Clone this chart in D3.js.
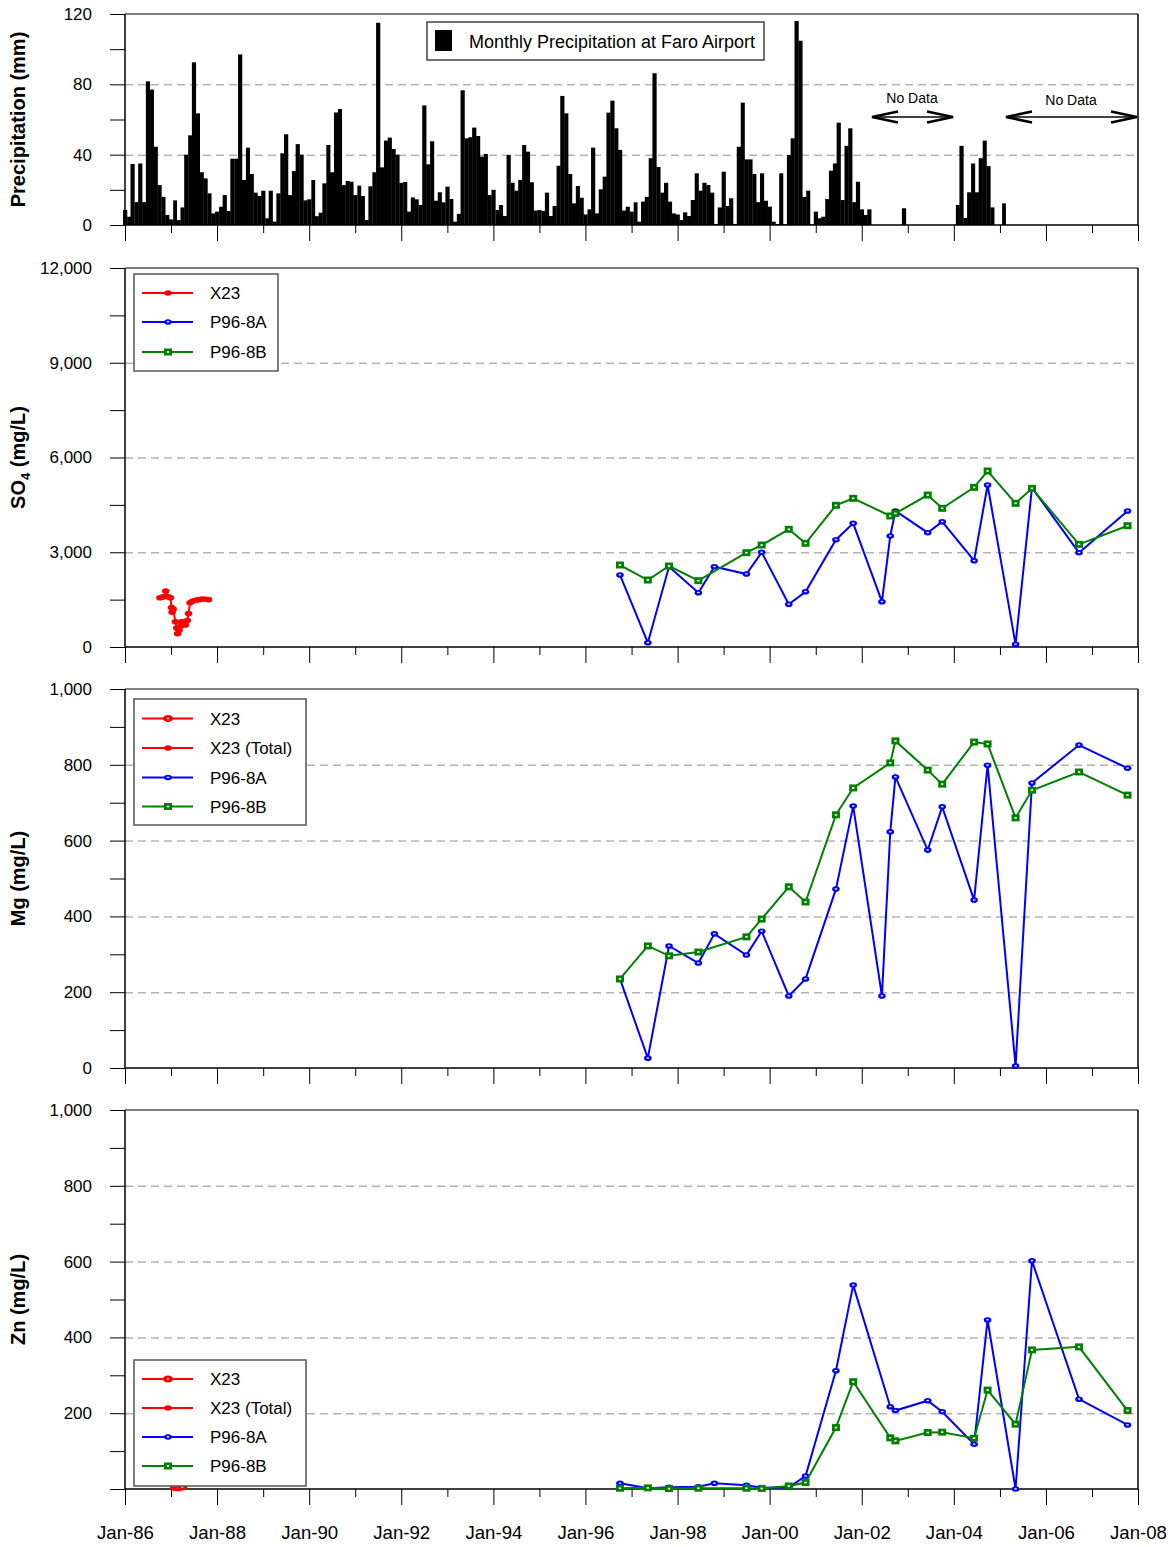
<!DOCTYPE html>
<html><head><meta charset="utf-8">
<script src="https://cdn.jsdelivr.net/npm/d3@7"></script>
<style>body{margin:0;background:#fff} text{font-family:"Liberation Sans",Arial,sans-serif}</style>
</head><body><svg id="c" width="1174" height="1547"></svg>
<script>
// ---------- DATA ----------
const precipStart = "1986-01-01";
const precipMonthly = [
 8.5,4.7,34.7,13,35,13,81.7,77,44.5,22.7,16,5.7,
 3.2,14,2.8,10,40,51,92.5,63.5,30,26.5,18,6.6,
 7.6,10.4,17,8,37.7,37.7,97,25.6,44,29,18.4,16.5,
 19.5,3.8,19.5,1.9,18,40.8,51.6,17,30.7,46,40,14,
 14.6,25.6,5,7,23.7,45.5,30,64,66,22.7,25,24.6,
 17,22.4,16.5,2.8,22,30,115,32.8,48,49.7,43.2,40,
 24,24.5,7.6,15.7,14.6,11.4,68,34.5,47.6,13.8,18.6,12.9,
 21.8,14.8,1.9,6.3,76.6,49.3,49.9,55.4,50.6,38.9,40.4,17,
 20,8.5,11.4,5.1,39.8,24,19.5,25.6,45.5,41.7,24.3,8.2,
 8.5,8,18.4,5.1,10.8,33.7,73.4,63.5,29,12.3,22.2,15.5,
 6,8.9,44,6.6,20.3,27.5,63.9,70.7,55,42.7,8.2,10.4,
 7.6,12.9,1.9,13.3,16,38,86.3,33,18.4,24,13.3,6.6,
 6,2.8,7.2,5.1,14.2,29.4,19.5,24,22.7,18.4,0.6,10,
 30.3,10.8,15.2,0.6,44.5,69.6,37.3,37.3,29,13,29.4,13.8,
 10.4,1.9,0.6,29.4,0.4,39.8,49.3,116,104.8,16,19.5,0.4,
 7.6,3.8,4.7,14.8,30.9,35,58.2,14.2,45,55,13,24.6,
 8.9,5.7,8.9,null,null,null,null,null,null,null,null,9.5,
 null,null,null,null,null,null,null,null,null,null,null,null,
 null,11.4,45,4,18.6,35,18.6,38,48,33.5,10,0,
 0,12.3
];

const datesX23 = ["1986-10-05","1986-10-25","1986-11-10","1986-11-20","1986-12-10","1986-12-28","1987-01-05","1987-01-10","1987-01-18","1987-02-05","1987-02-15","1987-02-22","1987-03-05","1987-03-15","1987-03-25","1987-04-10","1987-04-25","1987-05-10","1987-05-20","1987-06-01","1987-06-20","1987-07-15","1987-08-10","1987-09-05","1987-10-01","1987-10-25"];
const so4X23 = [1560,1580,1600,1770,1590,1560,1250,1100,1200,800,600,420,520,650,800,780,700,840,1060,1400,1450,1480,1500,1520,1510,1500];

const datesX23Zn = ["1987-02-01","1987-03-01","1987-04-01"];
const znX23 = [4,3,5];

const datesA = ["1996-10-01","1997-05-10","1997-10-25","1998-06-15","1998-10-20","1999-07-01","1999-10-30","2000-06-01","2000-10-12","2001-06-10","2001-10-25","2002-06-10","2002-08-15","2002-09-25","2003-06-08","2003-10-01","2004-06-10","2004-09-25","2005-05-05","2005-09-12","2006-09-20","2007-10-10"];
const so4A = [2280,136,2543,1720,2543,2311,2998,1352,1751,3397,3916,1434,3514,4306,3619,3967,2732,5129,85,5044,2986,4306];
const mgA  = [235,26,322,277,354,298,361,190,235,472,691,190,623,768,575,689,443,799,5,752,852,791];
const znA  = [15,2,4.5,6,15,10,3.5,4.5,34,312,538,null,217,207,233,204,118,446,0,602,237,169];

const datesB = ["1996-10-01","1997-05-10","1997-10-25","1998-06-15","1999-07-01","1999-10-30","2000-06-01","2000-10-12","2001-06-10","2001-10-25","2002-08-15","2002-09-25","2003-06-08","2003-10-01","2004-06-10","2004-09-25","2005-05-05","2005-09-12","2006-09-20","2007-10-10"];
const so4B = [2596,2121,2564,2100,2986,3229,3726,3283,4486,4708,4148,4230,4812,4391,5055,5572,4549,5024,3250,3840];
const mgB  = [235,322,296,306,346,393,478,438,668,739,805,863,786,749,860,855,660,733,781,720];
const znB  = [2,3,1,2,2,1.5,8,17,162,283,135,127,149,150,134,261,171,367,375,207];

const xTickYears = d3.range(1986, 2009);
const xLabelYears = d3.range(1986, 2009, 2);
const legend3 = ["X23","P96-8A","P96-8B"];
const legend4 = ["X23","X23 (Total)","P96-8A","P96-8B"];

// ---------- DRAW ----------
const svg = d3.select("#c");
const parse = d3.timeParse("%Y-%m-%d");
const L = 125, R = 1138;
const x = d3.scaleTime().domain([new Date(1986,0,1), new Date(2008,0,1)]).range([L, R]);
const RED="#ff0000", BLUE="#0000ff", GREEN="#008000", GRID="#b4b4b4";

function panel(o){
  const y = d3.scaleLinear().domain([0,o.max]).range([o.bottom,o.top]);
  const g = svg.append("g");
  g.append("g").attr("transform",`translate(${L},0)`)
   .call(d3.axisLeft(y).tickValues(o.grid).tickSize(-(R-L)).tickFormat(""))
   .call(s=>{s.select(".domain").remove(); s.selectAll("line").attr("stroke",GRID).attr("stroke-width",1.5).attr("stroke-dasharray","8,5");});
  g.append("g").attr("transform",`translate(${L},0)`)
   .call(d3.axisLeft(y).tickValues(d3.range(0,o.max+1e-9,o.minor)).tickSize(15).tickPadding(18)
     .tickFormat(d=> o.labels.includes(d) ? o.fmt(d) : ""))
   .call(s=>{s.select(".domain").remove(); s.selectAll("line").attr("stroke","#000");
     s.selectAll("text").attr("font-size",17).attr("fill","#000").attr("font-family","Liberation Sans, Arial, sans-serif");});
  const gx = g.append("g").attr("transform",`translate(0,${o.bottom})`);
  gx.call(d3.axisBottom(x).tickValues(xTickYears.filter(v=>v%2).map(v=>new Date(v,0,1))).tickSize(8).tickFormat(""))
    .call(s=>{s.select(".domain").remove(); s.selectAll("line").attr("stroke","#000");});
  const gx2 = g.append("g").attr("transform",`translate(0,${o.bottom})`);
  gx2.call(d3.axisBottom(x).tickValues(xLabelYears.map(v=>new Date(v,0,1))).tickSize(16).tickPadding(21)
      .tickFormat(o.xlabels ? d3.timeFormat("Jan-%y") : ""))
    .call(s=>{s.select(".domain").remove(); s.selectAll("line").attr("stroke","#000");
      s.selectAll("text").attr("font-size",19).attr("fill","#000").attr("textLength",57).attr("lengthAdjust","spacingAndGlyphs")
        .attr("font-family","Liberation Sans, Arial, sans-serif");});
  g.append("line").attr("x1",L).attr("x2",R).attr("y1",o.bottom).attr("y2",o.bottom).attr("stroke","#000").attr("stroke-width",1.5);
  g.append("line").attr("x1",L).attr("x2",L).attr("y1",o.top).attr("y2",o.bottom).attr("stroke","#000").attr("stroke-width",1.5);
  g.append("line").attr("x1",R).attr("x2",R).attr("y1",o.top).attr("y2",o.bottom).attr("stroke","#000").attr("stroke-width",1.5);
  g.append("line").attr("x1",L).attr("x2",R).attr("y1",o.top).attr("y2",o.top).attr("stroke","#000").attr("stroke-width",1.2);
  const t = svg.append("text").attr("transform",`translate(25,${(o.top+o.bottom)/2}) rotate(-90)`)
    .attr("text-anchor","middle").attr("font-weight","bold").attr("font-size",20);
  o.title(t);
  return y;
}

function series(y, dates, vals, color, kind){
  const pts = dates.map((d,i)=>({d:parse(d), v:vals[i]})).filter(p=>p.v!=null);
  const line = d3.line().x(p=>x(p.d)).y(p=>y(p.v));
  svg.append("path").datum(pts).attr("d",line).attr("fill","none").attr("stroke",color).attr("stroke-width",2);
  marker(svg.append("g"), pts.map(p=>[x(p.d), y(p.v)]), color, kind);
}
function marker(g, xy, color, kind){
  xy.forEach(([px,py])=>{
    if(kind==="circle"){
      g.append("ellipse").attr("cx",px).attr("cy",py).attr("rx",3.8).attr("ry",2.8).attr("fill",color);
      g.append("rect").attr("x",px-1.2).attr("y",py-0.8).attr("width",2.4).attr("height",1.3).attr("fill","#fff");
    } else if(kind==="square"){
      g.append("rect").attr("x",px-4).attr("y",py-3.5).attr("width",8).attr("height",7).attr("fill",color);
      g.append("rect").attr("x",px-1.2).attr("y",py-0.8).attr("width",2.4).attr("height",1.6).attr("fill","#fff");
    } else if(kind==="red"){
      g.append("ellipse").attr("cx",px).attr("cy",py).attr("rx",3.8).attr("ry",2.8).attr("fill",color);
    } else if(kind==="redbig"){
      g.append("ellipse").attr("cx",px).attr("cy",py).attr("rx",5).attr("ry",3.4).attr("fill",color);
      g.append("rect").attr("x",px-1).attr("y",py-0.6).attr("width",2).attr("height",1.2).attr("fill","#fff");
    }
  });
}
function legend(bx,by,bw,bh,items){
  svg.append("rect").attr("x",bx).attr("y",by).attr("width",bw).attr("height",bh).attr("fill","#fff").attr("stroke","#555").attr("stroke-width",1.5);
  items.forEach(it=>{
    svg.append("line").attr("x1",bx+8).attr("x2",bx+59).attr("y1",it.y).attr("y2",it.y).attr("stroke",it.color).attr("stroke-width",2);
    marker(svg.append("g"), [[bx+34,it.y]], it.color, it.kind);
    svg.append("text").attr("x",bx+76).attr("y",it.y+6).attr("font-size",17).text(it.label);
  });
}

// Precipitation
const yP = panel({top:14,bottom:225,max:120,minor:20,grid:[40,80],labels:[0,40,80,120],fmt:d3.format("d"),
  title:t=>t.text("Precipitation (mm)")});
const p0 = parse(precipStart);
svg.append("g").selectAll("rect").data(precipMonthly.map((v,i)=>({d:d3.timeMonth.offset(p0,i),v})).filter(p=>p.v!=null && p.v>0))
  .join("rect")
  .attr("x",p=>x(p.d)-(x(d3.timeMonth.offset(p.d,1))-x(p.d))/2)
  .attr("width",p=>x(d3.timeMonth.offset(p.d,1))-x(p.d)+0.3)
  .attr("y",p=>yP(p.v)).attr("height",p=>yP(0)-yP(p.v)).attr("fill","#000");
svg.append("rect").attr("x",427).attr("y",22).attr("width",337).attr("height",38).attr("fill","#fff").attr("stroke","#444").attr("stroke-width",1.5);
svg.append("rect").attr("x",435).attr("y",30).attr("width",17).attr("height",21).attr("fill","#000");
svg.append("text").attr("x",469).attr("y",48).attr("font-size",18).attr("textLength",286).attr("lengthAdjust","spacingAndGlyphs").text("Monthly Precipitation at Faro Airport");
function arrow(x1,x2,yy){
  const g = svg.append("g").attr("stroke","#000").attr("fill","none").attr("stroke-width",2);
  g.append("line").attr("x1",x1).attr("x2",x2).attr("y1",yy).attr("y2",yy).attr("stroke-width",1.5);
  g.append("path").attr("d",`M${x1+26},${yy-5.5} L${x1},${yy} L${x1+26},${yy+5.5}`).attr("stroke-width",2.5);
  g.append("path").attr("d",`M${x2-26},${yy-5.5} L${x2},${yy} L${x2-26},${yy+5.5}`).attr("stroke-width",2.5);
}
arrow(872,953,117);
arrow(1006,1137,117);
svg.append("text").attr("x",912).attr("y",103).attr("text-anchor","middle").attr("font-size",14).text("No Data");
svg.append("text").attr("x",1071).attr("y",105).attr("text-anchor","middle").attr("font-size",14).text("No Data");

// SO4
const yS = panel({top:268,bottom:647,max:12000,minor:1500,grid:[3000,6000,9000],labels:[0,3000,6000,9000,12000],fmt:d3.format(","),
  title:t=>{t.append("tspan").text("SO"); t.append("tspan").attr("font-size",13).attr("dy",5).text("4"); t.append("tspan").attr("dy",-5).text(" (mg/L)");}});
series(yS, datesX23, so4X23, RED, "red");
series(yS, datesA, so4A, BLUE, "circle");
series(yS, datesB, so4B, GREEN, "square");
legend(134,274,144,97,[
  {label:legend3[0],color:RED,kind:"red",y:293},
  {label:legend3[1],color:BLUE,kind:"circle",y:322},
  {label:legend3[2],color:GREEN,kind:"square",y:352}]);

// Mg
const yM = panel({top:689,bottom:1068,max:1000,minor:100,grid:[200,400,600,800],labels:[0,200,400,600,800,1000],fmt:d3.format(","),
  title:t=>t.text("Mg (mg/L)")});
series(yM, datesA, mgA, BLUE, "circle");
series(yM, datesB, mgB, GREEN, "square");
legend(134,699,172,126,[
  {label:legend4[0],color:RED,kind:"redbig",y:718.5},
  {label:legend4[1],color:RED,kind:"red",y:748},
  {label:legend4[2],color:BLUE,kind:"circle",y:777.5},
  {label:legend4[3],color:GREEN,kind:"square",y:806.5}]);

// Zn
const yZ = panel({top:1110,bottom:1489,max:1000,minor:100,grid:[200,400,600,800],labels:[200,400,600,800,1000],fmt:d3.format(","),xlabels:true,
  title:t=>t.text("Zn (mg/L)")});
series(yZ, datesX23Zn, znX23, RED, "redbig");
series(yZ, datesA, znA, BLUE, "circle");
series(yZ, datesB, znB, GREEN, "square");
legend(134,1360,172,126,[
  {label:legend4[0],color:RED,kind:"redbig",y:1379},
  {label:legend4[1],color:RED,kind:"red",y:1408},
  {label:legend4[2],color:BLUE,kind:"circle",y:1437},
  {label:legend4[3],color:GREEN,kind:"square",y:1466}]);
</script></body></html>
